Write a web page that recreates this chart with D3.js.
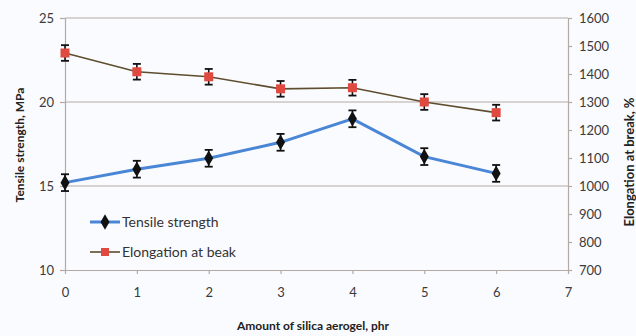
<!DOCTYPE html>
<html lang="en">
<head>
    <meta charset="UTF-8">
    <title>Tensile strength / elongation</title>
    <script src="https://cdn.jsdelivr.net/npm/d3@7"></script>
    <style>
        html, body {
            margin: 0;
            background: #fafbfe;
            font-family: Lato, "Open Sans", sans-serif;
        }
    </style>
</head>
<body>
    <div id="vis"></div>
    <script>
        // data
        var silica = [0, 1, 2, 3, 4, 5, 6];
        var tensile = [15.2, 16.0, 16.65, 17.6, 19.0, 16.75, 15.75];
        var tensileErr = [0.5, 0.5, 0.5, 0.5, 0.5, 0.5, 0.5];
        var elongation = [1475, 1408, 1390, 1347, 1351, 1300, 1262];
        var elongationErr = [28, 28, 28, 28, 28, 28, 28];
        var leftTicks = [10, 15, 20, 25];
        var rightTicks = [700, 800, 900, 1000, 1100, 1200, 1300, 1400, 1500, 1600];
        var xTicks = [0, 1, 2, 3, 4, 5, 6, 7];

        var W = 636, H = 336;
        var margin = {top: 18, left: 65, right: 68, bottom: 66};
        var width = W - margin.left - margin.right;
        var height = H - margin.top - margin.bottom;

        var axisCol = "#b5a9a3";

        var svg = d3.select("#vis").append("svg")
            .attr("width", W)
            .attr("height", H);

        var g = svg.append("g")
            .attr("transform", "translate(" + margin.left + "," + margin.top + ")");

        var x = d3.scaleLinear().domain([0, 7]).range([0, width]);
        var yL = d3.scaleLinear().domain([10, 25]).range([height, 0]);
        var yR = d3.scaleLinear().domain([700, 1600]).range([height, 0]);

        // grid lines
        g.selectAll(".grid").data([15, 20, 25]).enter().append("line")
            .attr("x1", 0).attr("x2", width)
            .attr("y1", function(d){ return yL(d); })
            .attr("y2", function(d){ return yL(d); })
            .attr("stroke", axisCol)
            .attr("stroke-width", 1.2);

        function styleAxis(sel) {
            sel.selectAll("path, line").attr("stroke", axisCol).attr("stroke-width", 1.2);
            sel.selectAll("text").attr("fill", "#3a3a3a").style("font-size", "13px")
                .style("font-family", "Lato, 'Open Sans', sans-serif");
        }

        var fmt = d3.format("d");

        g.append("g")
            .attr("transform", "translate(0," + height + ")")
            .call(d3.axisBottom(x).tickValues(xTicks).tickFormat(fmt).tickSize(4).tickSizeOuter(0).tickPadding(14))
            .call(styleAxis);

        g.append("g")
            .call(d3.axisLeft(yL).tickValues(leftTicks).tickFormat(fmt).tickSize(5).tickSizeOuter(0).tickPadding(6))
            .call(styleAxis);

        g.append("g")
            .attr("transform", "translate(" + width + ",0)")
            .call(d3.axisRight(yR).tickValues(rightTicks).tickFormat(fmt).tickSize(4).tickSizeOuter(0).tickPadding(7))
            .call(styleAxis);

        // lines
        var blue = "#4a86d6";
        var brown = "#5e4d2e";
        var red = "#e0493f";

        var lineL = d3.line()
            .x(function(d, i){ return x(silica[i]); })
            .y(function(d){ return yL(d); });
        var lineR = d3.line()
            .x(function(d, i){ return x(silica[i]); })
            .y(function(d){ return yR(d); });

        g.append("path").datum(elongation)
            .attr("d", lineR)
            .attr("fill", "none")
            .attr("stroke", brown)
            .attr("stroke-width", 1.6);

        g.append("path").datum(tensile)
            .attr("d", lineL)
            .attr("fill", "none")
            .attr("stroke", blue)
            .attr("stroke-width", 3);

        function errorBars(values, errs, yScale) {
            var eb = g.append("g");
            values.forEach(function(v, i) {
                var cx = x(silica[i]);
                var y1 = yScale(v - errs[i]), y2 = yScale(v + errs[i]);
                eb.append("line").attr("x1", cx).attr("x2", cx).attr("y1", y1).attr("y2", y2)
                    .attr("stroke", "#111").attr("stroke-width", 1.6);
                [y1, y2].forEach(function(yy) {
                    eb.append("line").attr("x1", cx - 4).attr("x2", cx + 4).attr("y1", yy).attr("y2", yy)
                        .attr("stroke", "#111").attr("stroke-width", 1.8);
                });
            });
        }

        errorBars(elongation, elongationErr, yR);
        errorBars(tensile, tensileErr, yL);

        var diamond = d3.symbol().type(d3.symbolDiamond).size(70);

        g.selectAll(".sq").data(elongation).enter().append("rect")
            .attr("x", function(d, i){ return x(silica[i]) - 4.5; })
            .attr("y", function(d){ return yR(d) - 4.5; })
            .attr("width", 9).attr("height", 9)
            .attr("fill", red);

        g.selectAll(".dm").data(tensile).enter().append("path")
            .attr("d", diamond)
            .attr("transform", function(d, i){ return "translate(" + x(silica[i]) + "," + yL(d) + ")"; })
            .attr("fill", "#111");

        // legend
        var leg = svg.append("g").attr("transform", "translate(90,222)");
        leg.append("line").attr("x1", 0).attr("x2", 30).attr("y1", 0).attr("y2", 0)
            .attr("stroke", blue).attr("stroke-width", 3);
        leg.append("path").attr("d", diamond).attr("transform", "translate(15,0)").attr("fill", "#111");
        leg.append("text").attr("x", 32).attr("y", 5).text("Tensile strength")
            .attr("fill", "#333").style("font-size", "14px");

        leg.append("line").attr("x1", 0).attr("x2", 30).attr("y1", 30).attr("y2", 30)
            .attr("stroke", brown).attr("stroke-width", 1.6);
        leg.append("rect").attr("x", 11).attr("y", 26).attr("width", 8).attr("height", 8).attr("fill", red);
        leg.append("text").attr("x", 32).attr("y", 35).text("Elongation at beak")
            .attr("fill", "#333").style("font-size", "14px");

        // axis titles
        svg.append("text")
            .attr("transform", "translate(24,145)rotate(-90)")
            .attr("text-anchor", "middle")
            .style("font-size", "12px").style("font-weight", "bold")
            .attr("fill", "#222")
            .text("Tensile strength, MPa");

        svg.append("text")
            .attr("transform", "translate(634,162)rotate(-90)")
            .attr("text-anchor", "middle")
            .style("font-size", "13px").style("font-weight", "bold")
            .attr("fill", "#222")
            .text("Elongation at break, %");

        svg.append("text")
            .attr("x", 313).attr("y", 330)
            .attr("text-anchor", "middle")
            .style("font-size", "12px").style("font-weight", "bold")
            .attr("fill", "#222")
            .text("Amount of silica aerogel, phr");
    </script>
</body>
</html>
